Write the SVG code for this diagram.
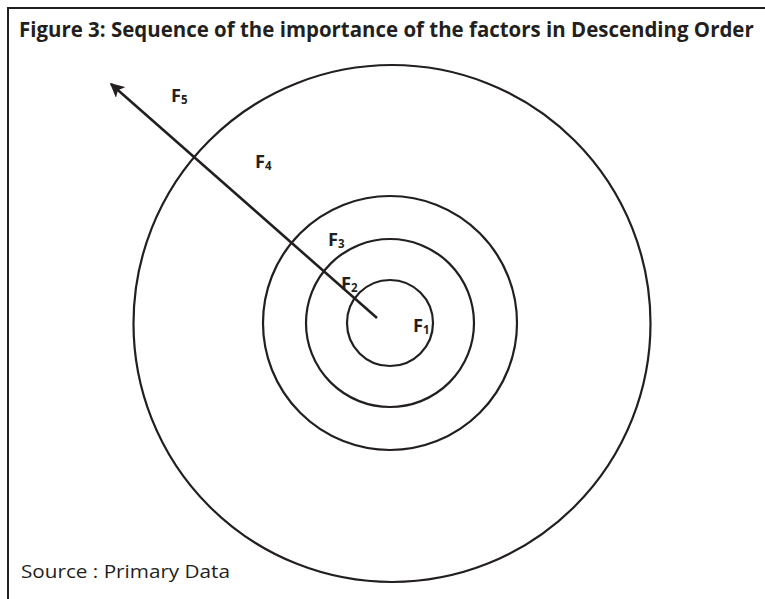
<svg xmlns="http://www.w3.org/2000/svg" width="765" height="599" viewBox="0 0 765 599">
<style>
.ring{fill:none;stroke:#231f20;stroke-width:2.2}
.lbl{font-family:"Open Sans","Liberation Sans",sans-serif;font-weight:bold;font-size:17px;fill:#231f20}
.sub{font-size:11.5px}
</style>
<defs>
<marker id="ah" viewBox="0 0 10 10" refX="9" refY="5" markerWidth="5.5" markerHeight="5.5" orient="auto" markerUnits="strokeWidth">
<path d="M0,0 L10,5 L0,10 L2.5,5 Z" fill="#231f20"/>
</marker>
</defs>
<rect width="765" height="599" fill="#fff"/>
<g id="frame">
<path d="M8,599 L8,8 L765,8" fill="none" stroke="#231f20" stroke-width="2"/>
</g>
<text id="title" transform="translate(19,37) scale(0.82,1)" x="0" y="0" font-family="Open Sans, Liberation Sans, sans-serif" font-weight="bold" font-size="22" fill="#231f20" textLength="896" lengthAdjust="spacingAndGlyphs">Figure 3: Sequence of the importance of the factors in Descending Order</text>
<g id="ring4"><circle class="ring" cx="392" cy="323.5" r="258.5"/></g>
<g id="ring3"><circle class="ring" cx="390" cy="323" r="127"/></g>
<g id="ring2"><circle class="ring" cx="390" cy="323" r="84"/></g>
<g id="ring1"><circle class="ring" cx="390" cy="323" r="43"/></g>
<g id="connectors">
<line x1="377" y1="318" x2="111" y2="84" stroke="#231f20" stroke-width="2.6" marker-end="url(#ah)"/>
</g>
<g id="labels">
<text class="lbl" x="171" y="102" textLength="10" lengthAdjust="spacingAndGlyphs">F</text><text class="lbl sub" x="181" y="103.5">5</text>
<text class="lbl" x="255" y="168" textLength="10" lengthAdjust="spacingAndGlyphs">F</text><text class="lbl sub" x="265" y="169.5">4</text>
<text class="lbl" x="328" y="246" textLength="10" lengthAdjust="spacingAndGlyphs">F</text><text class="lbl sub" x="338" y="247.5">3</text>
<text class="lbl" x="341" y="290" textLength="10" lengthAdjust="spacingAndGlyphs">F</text><text class="lbl sub" x="351" y="291.5">2</text>
<text class="lbl" x="413" y="332" textLength="10" lengthAdjust="spacingAndGlyphs">F</text><text class="lbl sub" x="423" y="333.5">1</text>
</g>
<text id="source" x="21" y="578" font-family="Open Sans, Liberation Sans, sans-serif" font-size="19" fill="#231f20" textLength="209" lengthAdjust="spacingAndGlyphs">Source : Primary Data</text>
</svg>
